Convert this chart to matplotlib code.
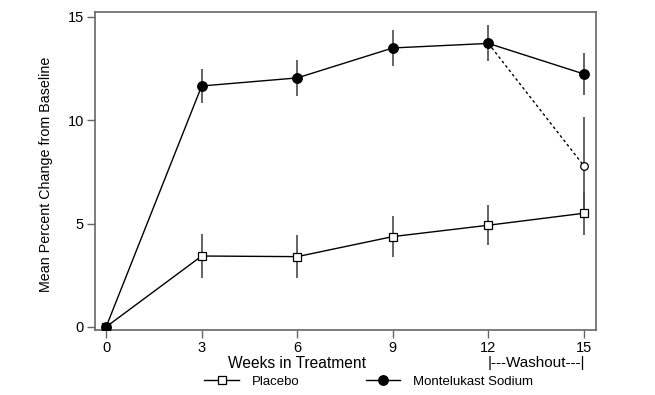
import matplotlib
matplotlib.use("Agg")
import matplotlib.pyplot as plt
import matplotlib.transforms as mtrans
from matplotlib.lines import Line2D

plt.rcParams["font.family"] = ["Liberation Sans", "DejaVu Sans"]

# data
weeks = [0, 3, 6, 9, 12, 15]
placebo = [0, 3.43, 3.40, 4.37, 4.92, 5.50]
placebo_err = [0, 1.08, 1.05, 0.98, 0.98, 1.05]
montelukast = [0, 11.66, 12.05, 13.50, 13.72, 12.24]
montelukast_err = [0, 0.82, 0.86, 0.85, 0.87, 1.00]
washout_weeks = [12, 15]
washout = [13.72, 7.79]
washout_err = [0, 2.38]
yticks = [0, 5, 10, 15]

FRAME = "#666666"
BAR = "#4a4a4a"

fig = plt.figure(figsize=(6.55, 3.95), dpi=100, facecolor="white")
ax = fig.add_axes([0.145, 0.1646, 0.765, 0.805])

# placebo
ax.errorbar(weeks[1:], placebo[1:], yerr=placebo_err[1:], fmt="none",
            ecolor=BAR, elinewidth=1.2, capsize=0, zorder=2)
ax.plot(weeks, placebo, color="black", lw=1.0, marker="s", ms=5.5,
        mfc="white", mec="black", mew=0.9, zorder=3)

# washout branch (dotted)
ax.errorbar(washout_weeks[1:], washout[1:], yerr=washout_err[1:], fmt="none",
            ecolor=BAR, elinewidth=1.2, capsize=0, zorder=2)
ax.plot(washout_weeks, washout, color="black", lw=1.0, ls=(0, (2, 2)), zorder=3)
ax.plot(washout_weeks[1:], washout[1:], ls="none", marker="o", ms=5.5,
        mfc="white", mec="black", mew=0.9, zorder=4)

# montelukast
ax.errorbar(weeks[1:], montelukast[1:], yerr=montelukast_err[1:], fmt="none",
            ecolor=BAR, elinewidth=1.2, capsize=0, zorder=2)
ax.plot(weeks, montelukast, color="black", lw=1.0, marker="o", ms=6.8,
        mfc="black", mec="black", zorder=4)

ax.set_xlim(-0.35, 15.38)
ax.set_ylim(-0.15, 15.24)
ax.set_xticks(weeks)
ax.set_yticks(yticks)
ax.tick_params(direction="out", length=6, width=1.0, color=FRAME,
               labelsize=10.5, pad=2)
for s in ax.spines.values():
    s.set_color(FRAME)
    s.set_linewidth(1.2)

ax.set_ylabel("Mean Percent Change from Baseline", fontsize=10.3)
ax.yaxis.set_label_coords(-0.084, 0.49)

tr = mtrans.blended_transform_factory(ax.transData, ax.transAxes)
ax.text(6.0, -0.104, "Weeks in Treatment", transform=tr, ha="center",
        va="center", fontsize=11.2)
ax.text(13.5, -0.104, "|---Washout---|", transform=tr, ha="center",
        va="center", fontsize=11.0)

handles = [
    Line2D([], [], color="black", lw=1.0, marker="s", ms=5.5, mfc="white",
           mec="black", mew=0.9),
    Line2D([], [], color="black", lw=1.0, marker="o", ms=6.8, mfc="black",
           mec="black"),
]
fig.legend(handles, ["Placebo", "Montelukast Sodium"], loc="center",
           bbox_to_anchor=(0.563, 0.033), ncol=2, frameon=False, fontsize=9.5,
           handlelength=2.6, handletextpad=1.0, columnspacing=5.0)

fig.savefig("out.png", dpi=100, facecolor="white")
